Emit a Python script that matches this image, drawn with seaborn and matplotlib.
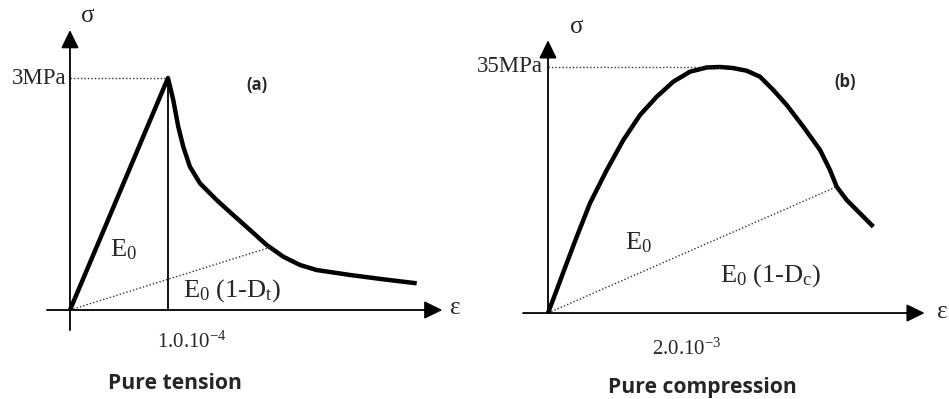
import numpy as np
import pandas as pd
import matplotlib
matplotlib.use("Agg")
import matplotlib.pyplot as plt
import seaborn as sns

# ---------------- data ----------------
# Panel (a): pure tension, strain in 1e-4, stress in MPa
tension_strain = [0.0, 1.0, 1.054, 1.105, 1.156, 1.224, 1.327, 1.497, 1.666, 1.837, 2.007,
                  2.177, 2.347, 2.517, 2.857, 3.197, 3.538]
tension_stress = [0.0, 3.0, 2.716, 2.370, 2.112, 1.853, 1.638, 1.422, 1.228, 1.035, 0.841,
                  0.689, 0.582, 0.517, 0.453, 0.397, 0.345]
tension_peak_strain = 1.0
tension_peak_stress = 3.0
tension_secant_strain = [0.0, 2.04]
tension_secant_stress = [0.0, 0.81]

# Panel (b): pure compression, strain in 1e-3, stress in MPa
comp_strain = [0.0, 0.101, 0.217, 0.334, 0.488, 0.683, 0.876, 1.070, 1.264, 1.457, 1.651,
               1.845, 2.0, 2.15, 2.31, 2.465, 2.62, 2.776, 2.969, 3.163, 3.279, 3.357,
               3.473, 3.628, 3.783]
comp_stress = [0.0, 3.27, 7.07, 10.85, 15.61, 20.34, 24.61, 28.17, 30.77, 32.91, 34.33,
               34.93, 35.0, 34.85, 34.47, 33.62, 31.73, 29.59, 26.5, 23.2, 20.34, 17.97,
               16.08, 14.18, 12.28]
comp_peak_strain = 2.0
comp_peak_stress = 35.0
comp_secant_strain = [0.0, 3.357]
comp_secant_stress = [0.0, 17.97]

peak_labels = ["3MPa", "35MPa"]
strain_labels = [r"1.0.10$^{\mathrm{-4}}$", r"2.0.10$^{\mathrm{-3}}$"]
panel_tags = ["(a)", "(b)"]
titles = ["Pure tension", "Pure compression"]
slope_labels = [r"E$_{0}$", r"E$_{0}$"]
damage_labels = [r"E$_{0}$ (1-D$_{\mathrm{t}}$)", r"E$_{0}$ (1-D$_{\mathrm{c}}$)"]

# ---------------- style ----------------
sns.set_theme(style="white")
plt.rcParams["font.family"] = ["Liberation Serif", "DejaVu Serif"]
plt.rcParams["mathtext.fontset"] = "custom"
plt.rcParams["mathtext.rm"] = "Liberation Serif"
plt.rcParams["mathtext.it"] = "Liberation Serif:italic"
plt.rcParams["mathtext.bf"] = "Liberation Serif:bold"

fig = plt.figure(figsize=(9.49, 3.99), dpi=100)
ax_a = fig.add_axes([0, 0, 470 / 949, 1])
ax_b = fig.add_axes([470 / 949, 0, 479 / 949, 1])

ax_a.set_xlim(-0.714, 4.082)
ax_a.set_ylim(-1.151, 4.009)
ax_b.set_xlim(-0.907, 4.663)
ax_b.set_ylim(-12.23, 44.53)

arrow_kw = dict(arrowstyle="-|>,head_length=0.55,head_width=0.27", mutation_scale=20,
                lw=1.3, color="black", shrinkA=0, shrinkB=0)
serif = ["Liberation Serif", "DejaVu Serif"]
sans_bold = dict(family=["Open Sans", "DejaVu Sans"], fontweight="bold")
dot_style = (0, (1, 1.5))


def draw_panel(ax, strain, stress, pk_x, pk_y, sec_x, sec_y, xaxis, yaxis, idx, txt):
    df = pd.DataFrame({"strain": strain, "stress": stress})
    sns.lineplot(data=df, x="strain", y="stress", ax=ax, sort=False, color="black",
                 lw=3.2, estimator=None, solid_joinstyle="round", solid_capstyle="butt")
    sec = pd.DataFrame({"strain": sec_x, "stress": sec_y})
    sns.lineplot(data=sec, x="strain", y="stress", ax=ax, sort=False, color="#333333",
                 lw=1.0, linestyle=dot_style, estimator=None)
    ax.plot([0, pk_x], [pk_y, pk_y], color="#333333", lw=1.0, linestyle=dot_style)
    # axes with arrows
    ax.annotate("", xy=(xaxis[1], 0), xytext=(xaxis[0], 0), arrowprops=arrow_kw)
    ax.annotate("", xy=(0, yaxis[1]), xytext=(0, yaxis[0]), arrowprops=arrow_kw)
    ax.text(*txt["sigma"], "σ", fontsize=18, family=serif, ha="center", va="center")
    ax.text(*txt["eps"], "ε", fontsize=18, family=serif, ha="center", va="center")
    ax.text(*txt["peak"], peak_labels[idx], fontsize=16.5, family=serif, ha="right", va="center")
    ax.text(*txt["tag"], panel_tags[idx], fontsize=12, ha="center", va="center", **sans_bold)
    ax.text(*txt["E0"], slope_labels[idx], fontsize=19, family=serif, ha="left", va="center")
    ax.text(*txt["Ed"], damage_labels[idx], fontsize=19, family=serif, ha="left", va="center")
    ax.text(*txt["strain"], strain_labels[idx], fontsize=15, family=serif, ha="left", va="center")
    ax.text(*txt["title"], titles[idx], fontsize=15.2, ha="center", va="center", **sans_bold)
    ax.axis("off")


draw_panel(ax_a, tension_strain, tension_stress, tension_peak_strain, tension_peak_stress,
           tension_secant_strain, tension_secant_stress, (-0.235, 3.80), (-0.26, 3.62), 0,
           dict(sigma=(0.18, 3.80), eps=(3.93, 0.02), peak=(-0.04, 3.0), tag=(1.91, 2.91),
                E0=(0.41, 0.78), Ed=(1.15, 0.25), strain=(0.89, -0.42), title=(1.07, -0.95)))
# vertical line at peak strain (tension)
ax_a.plot([tension_peak_strain, tension_peak_strain], [0, tension_peak_stress], color="black", lw=1.3)

draw_panel(ax_b, comp_strain, comp_stress, comp_peak_strain, comp_peak_stress,
           comp_secant_strain, comp_secant_stress, (-0.29, 4.38), (0.0, 38.8), 1,
           dict(sigma=(0.337, 40.7), eps=(4.58, 0.2), peak=(-0.058, 35.0), tag=(3.45, 32.9),
                E0=(0.90, 9.96), Ed=(2.0, 5.3), strain=(1.21, -5.2), title=(1.80, -10.6)))

fig.savefig("out.png", dpi=100, facecolor="white")
